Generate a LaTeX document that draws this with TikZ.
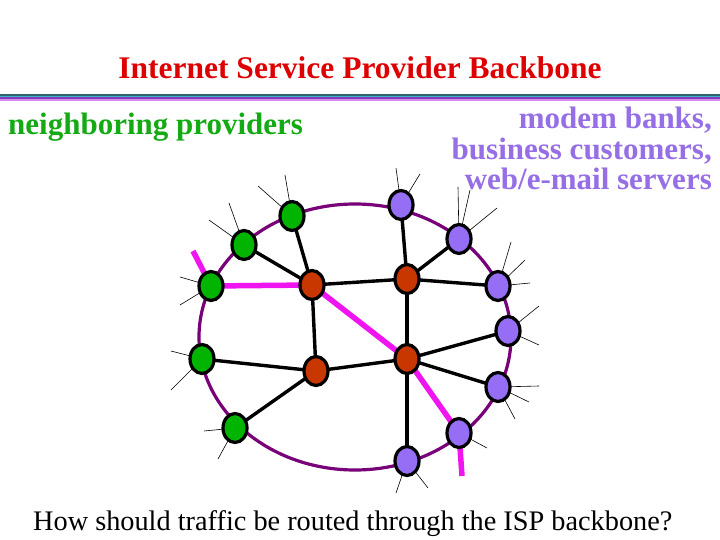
\documentclass[tikz,border=0pt]{standalone}
\usepackage{fontspec}
\setmainfont{Liberation Serif}
\usetikzlibrary{shapes.geometric}
\definecolor{titlered}{RGB}{222,0,0}
\definecolor{provgreen}{RGB}{20,170,20}
\definecolor{nodegreen}{RGB}{0,180,0}
\definecolor{routerred}{RGB}{200,55,0}
\definecolor{custpurple}{RGB}{150,110,245}
\definecolor{textpurple}{RGB}{150,110,230}
\definecolor{ringpurple}{RGB}{120,0,120}
\definecolor{pinkpath}{RGB}{240,20,240}
\tikzset{
  pe/.style={draw=black,line width=3.2pt,inner sep=0pt,minimum width=24pt,minimum height=29pt,ellipse},
  gnode/.style={pe,fill=nodegreen},
  rnode/.style={pe,fill=routerred},
  pnode/.style={pe,fill=custpurple},
  link/.style={line width=3.4pt,black},
  hot/.style={line width=5.5pt,pinkpath},
  access/.style={line width=0.6pt,black},
}
\begin{document}
\begin{tikzpicture}[x=1pt,y=-1pt]
\useasboundingbox (0,0) rectangle (720,540);
\fill[white] (0,0) rectangle (720,540);
% title bar
\fill[color={rgb,255:red,46;green,100;blue,110}] (0,94) rectangle (720,96.5);
\fill[color={rgb,255:red,60;green,180;blue,200}] (0,96.5) rectangle (720,97.5);
\fill[color={rgb,255:red,130;green,60;blue,190}] (0,97.5) rectangle (720,99.2);
\fill[color={rgb,255:red,215;green,140;blue,240}] (0,99.2) rectangle (720,100.6);
% texts
\node[font=\bfseries\fontsize{31.5}{36}\selectfont,text=titlered,anchor=base] (title) at (360,79) {Internet Service Provider Backbone};
\node[font=\bfseries\fontsize{31}{36}\selectfont,text=provgreen,anchor=base west,inner sep=0pt] (np) at (8,135) {neighboring providers};
\node[font=\bfseries\fontsize{31}{31}\selectfont,text=textpurple,anchor=base east,inner sep=0pt] (c1) at (712,129) {modem banks,};
\node[font=\bfseries\fontsize{31}{31}\selectfont,text=textpurple,anchor=base east,inner sep=0pt] (c2) at (712,160) {business customers,};
\node[font=\bfseries\fontsize{31}{31}\selectfont,text=textpurple,anchor=base east,inner sep=0pt] (c3) at (712,190) {web/e-mail servers};
\node[font=\fontsize{28.3}{32}\selectfont,anchor=base west,inner sep=0pt] (q) at (33,530) {How should traffic be routed through the ISP backbone?};
% backbone ring
\draw[ringpurple,line width=3.2pt] (355,337) ellipse [x radius=156,y radius=133];
% coordinates of nodes
\coordinate (g1) at (292,216);
\coordinate (g2) at (244,245);
\coordinate (g3) at (211,286);
\coordinate (g4) at (202,359);
\coordinate (g5) at (235,428);
\coordinate (r1) at (312,285);
\coordinate (r2) at (407,279);
\coordinate (r3) at (316,371);
\coordinate (r4) at (407,359);
\coordinate (p1) at (401,205);
\coordinate (p2) at (459,239);
\coordinate (p3) at (498,286);
\coordinate (p4) at (508,331);
\coordinate (p5) at (498,387);
\coordinate (p6) at (459,433);
\coordinate (p7) at (407,461);
% pink route
\coordinate (ps1) at (193,251);
\coordinate (ps2) at (462,476);
\draw[hot] (ps1) -- (g3) -- (r1) -- (r4) -- (p6) -- (ps2);
% black links
\draw[link] (g1) -- (r1);
\draw[link] (g2) -- (r1);
\draw[link] (r1) -- (r2);
\draw[link] (r1) -- (r3);
\draw[link] (r2) -- (p1);
\draw[link] (r2) -- (p2);
\draw[link] (r2) -- (p3);
\draw[link] (r2) -- (r4);
\draw[link] (r3) -- (g4);
\draw[link] (r3) -- (g5);
\draw[link] (r3) -- (r4);
\draw[link] (r4) -- (p4);
\draw[link] (r4) -- (p5);
\draw[link] (r4) -- (p7);
% access lines
\foreach \n/\x/\y in {g1/285/175, g1/258/186, g2/229/203, g2/209/220, g3/180/277, g3/180/305,
  g4/171/351, g4/171/390, g5/204/431, g5/218/459, p1/396/168, p1/420/174,
  p2/458/187, p2/470/190, p2/497/208, p3/511/242, p3/525/260, p3/530/283,
  p4/539/306, p4/539/345, p5/539/386, p5/529/402, p5/515/419, p6/487/448,
  p7/396/493, p7/428/488}
  {\coordinate (e) at (\x,\y); \draw[access] (\n) -- (e);}
% nodes
\foreach \n in {g1,g2,g3,g4,g5} \node[gnode] (N\n) at (\n) {};
\foreach \n in {r1,r2,r3,r4} \node[rnode] (N\n) at (\n) {};
\foreach \n in {p1,p2,p3,p4,p5,p6,p7} \node[pnode] (N\n) at (\n) {};
\end{tikzpicture}
\end{document}
